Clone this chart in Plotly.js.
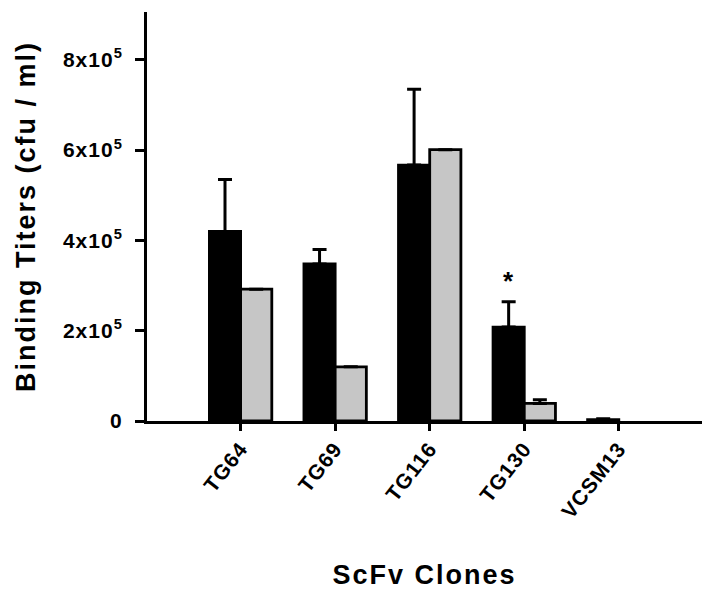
<!DOCTYPE html>
<html>
<head>
<meta charset="utf-8">
<script src="https://cdn.plot.ly/plotly-3.0.1.min.js"></script>
<style>
  html, body { margin: 0; padding: 0; background: #fff; }
  #chart { width: 702px; height: 590px; }
  .xtitle, .ytitle { letter-spacing: 2px; }
  .xtick text, .ytick text { letter-spacing: 1px; }
</style>
</head>
<body>
<div id="chart"></div>
<script>
// ---- data ----
const clones = ['TG64', 'TG69', 'TG116', 'TG130', 'VCSM13'];
const blackValues = [420000, 348000, 567000, 208000, 3000];
const blackErrors = [115000, 32000, 168000, 56000, 2000];
const grayValues = [292000, 120000, 601000, 39000, null];   // no gray bar visible for VCSM13
const grayErrors = [null, null, null, 8000, null];
const yTickValues = [0, 200000, 400000, 600000, 800000];
const yTickLabels = ['0', '2x10<sup>5</sup>', '4x10<sup>5</sup>', '6x10<sup>5</sup>', '8x10<sup>5</sup>'];
const starClone = 'TG130';
const starValue = 310000;

const fontFamily = '"Liberation Sans", Arial, Helvetica, sans-serif';

const zeros = blackValues.map(() => 0);

const traces = [
  {
    type: 'bar',
    name: 'series 1',
    x: clones,
    y: blackValues,
    marker: { color: '#000000', line: { color: '#000000', width: 2.8 } },
    error_y: {
      type: 'data', symmetric: false,
      array: blackErrors, arrayminus: zeros,
      color: '#000000', thickness: 3, width: 7
    },
    hoverinfo: 'x+y'
  },
  {
    type: 'bar',
    name: 'series 2',
    x: clones,
    y: grayValues,
    marker: { color: '#c6c6c6', line: { color: '#000000', width: 2.8 } },
    error_y: {
      type: 'data', symmetric: false,
      array: grayErrors, arrayminus: zeros,
      color: '#000000', thickness: 3, width: 7
    },
    hoverinfo: 'x+y'
  }
];

const layout = {
  width: 702,
  height: 590,
  margin: { l: 147, r: 0, t: 12, b: 169, pad: 0 },
  paper_bgcolor: '#ffffff',
  plot_bgcolor: '#ffffff',
  showlegend: false,
  barmode: 'group',
  bargap: 0.34,
  bargroupgap: 0,
  font: { family: fontFamily, color: '#000000', weight: 'bold' },
  xaxis: {
    type: 'category',
    range: [-0.99, 4.88],
    showline: true, linecolor: '#000000', linewidth: 3,
    showgrid: false, zeroline: false,
    ticks: 'outside', ticklen: 7, tickwidth: 3, tickcolor: '#000000',
    tickangle: -52,
    ticklabelstandoff: -3,
    tickfont: { family: fontFamily, size: 21, color: '#000000', weight: 'bold' },
    title: {
      text: 'ScFv Clones',
      font: { family: fontFamily, size: 27, color: '#000000', weight: 'bold' },
      standoff: 48
    },
    automargin: false,
    fixedrange: true
  },
  yaxis: {
    range: [0, 906000],
    showline: true, linecolor: '#000000', linewidth: 3,
    showgrid: false, zeroline: false,
    ticks: 'outside', ticklen: 9, tickwidth: 3, tickcolor: '#000000',
    tickvals: yTickValues,
    ticktext: yTickLabels,
    ticklabelstandoff: 8,
    tickfont: { family: fontFamily, size: 21, color: '#000000', weight: 'bold' },
    title: {
      text: 'Binding Titers (cfu / ml)',
      font: { family: fontFamily, size: 27, color: '#000000', weight: 'bold' },
      standoff: 20
    },
    automargin: false,
    fixedrange: true
  },
  annotations: [
    {
      x: starClone, y: starValue, xref: 'x', yref: 'y',
      xshift: -16,
      text: '*', showarrow: false,
      xanchor: 'center', yanchor: 'middle',
      font: { family: fontFamily, size: 26, color: '#000000', weight: 'bold' }
    }
  ]
};

Plotly.newPlot('chart', traces, layout, { displayModeBar: false, staticPlot: true });
</script>
</body>
</html>
